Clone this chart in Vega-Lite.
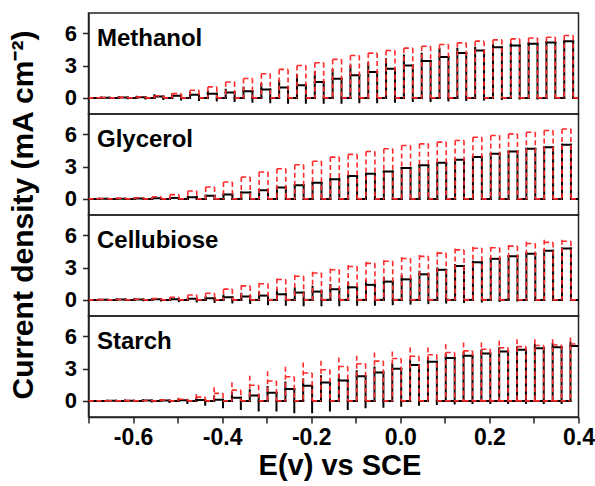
{
"$schema": "https://vega.github.io/schema/vega-lite/v6.json",
"padding": {"left": 8.5, "top": 12, "right": 14, "bottom": 4},
"background": "white",
"bounds": "flush",
"data": {"values": [
{"p":"Methanol","s":"b","a":-0.672,"b":-0.652,"c":-0.7,"h":0.03,"l":0.02,"n":-0.02},
{"p":"Methanol","s":"b","a":-0.632,"b":-0.612,"c":-0.652,"h":0.05,"l":0.03,"n":-0.03},
{"p":"Methanol","s":"b","a":-0.592,"b":-0.572,"c":-0.612,"h":0.1,"l":0.06,"n":-0.06},
{"p":"Methanol","s":"b","a":-0.552,"b":-0.532,"c":-0.572,"h":0.25,"l":0.12,"n":-0.1},
{"p":"Methanol","s":"b","a":-0.512,"b":-0.492,"c":-0.532,"h":0.34,"l":0.2,"n":-0.15},
{"p":"Methanol","s":"b","a":-0.472,"b":-0.452,"c":-0.492,"h":0.45,"l":0.28,"n":-0.2},
{"p":"Methanol","s":"b","a":-0.432,"b":-0.412,"c":-0.452,"h":0.6,"l":0.38,"n":-0.25},
{"p":"Methanol","s":"b","a":-0.392,"b":-0.372,"c":-0.412,"h":0.75,"l":0.5,"n":-0.3},
{"p":"Methanol","s":"b","a":-0.352,"b":-0.332,"c":-0.372,"h":0.95,"l":0.62,"n":-0.35},
{"p":"Methanol","s":"b","a":-0.312,"b":-0.292,"c":-0.332,"h":1.3,"l":0.77,"n":-0.4},
{"p":"Methanol","s":"b","a":-0.272,"b":-0.252,"c":-0.292,"h":1.55,"l":0.96,"n":-0.45},
{"p":"Methanol","s":"b","a":-0.232,"b":-0.212,"c":-0.252,"h":2.1,"l":1.17,"n":-0.45},
{"p":"Methanol","s":"b","a":-0.192,"b":-0.172,"c":-0.212,"h":2.4,"l":1.48,"n":-0.45},
{"p":"Methanol","s":"b","a":-0.152,"b":-0.132,"c":-0.172,"h":2.6,"l":1.79,"n":-0.45},
{"p":"Methanol","s":"b","a":-0.112,"b":-0.092,"c":-0.132,"h":3.0,"l":2.1,"n":-0.4},
{"p":"Methanol","s":"b","a":-0.072,"b":-0.052,"c":-0.092,"h":3.2,"l":2.4,"n":-0.4},
{"p":"Methanol","s":"b","a":-0.032,"b":-0.012,"c":-0.052,"h":3.6,"l":2.7,"n":-0.35},
{"p":"Methanol","s":"b","a":0.008,"b":0.028,"c":-0.012,"h":3.95,"l":3.02,"n":-0.3},
{"p":"Methanol","s":"b","a":0.048,"b":0.068,"c":0.028,"h":4.1,"l":3.43,"n":-0.3},
{"p":"Methanol","s":"b","a":0.088,"b":0.108,"c":0.068,"h":4.55,"l":3.8,"n":-0.25},
{"p":"Methanol","s":"b","a":0.128,"b":0.148,"c":0.108,"h":4.55,"l":4.17,"n":-0.2},
{"p":"Methanol","s":"b","a":0.168,"b":0.188,"c":0.148,"h":4.66,"l":4.41,"n":-0.15},
{"p":"Methanol","s":"b","a":0.208,"b":0.228,"c":0.188,"h":4.9,"l":4.72,"n":-0.1},
{"p":"Methanol","s":"b","a":0.248,"b":0.268,"c":0.228,"h":5.0,"l":4.88,"n":-0.05},
{"p":"Methanol","s":"b","a":0.288,"b":0.308,"c":0.268,"h":5.1,"l":5.03,"n":-0.05},
{"p":"Methanol","s":"b","a":0.328,"b":0.348,"c":0.308,"h":5.2,"l":5.15,"n":0},
{"p":"Methanol","s":"b","a":0.368,"b":0.388,"c":0.348,"h":5.28,"l":5.28,"n":0},
{"p":"Methanol","s":"b","a":0.408,"b":0.428,"c":0.388,"h":5.3,"l":5.3,"n":0},
{"p":"Methanol","s":"r","a":-0.672,"b":-0.652,"c":-0.7,"h":0.03,"l":0.03,"n":0},
{"p":"Methanol","s":"r","a":-0.632,"b":-0.612,"c":-0.652,"h":0.05,"l":0.05,"n":0},
{"p":"Methanol","s":"r","a":-0.592,"b":-0.572,"c":-0.612,"h":0.1,"l":0.1,"n":0},
{"p":"Methanol","s":"r","a":-0.552,"b":-0.532,"c":-0.572,"h":0.2,"l":0.2,"n":0},
{"p":"Methanol","s":"r","a":-0.512,"b":-0.492,"c":-0.532,"h":0.4,"l":0.4,"n":0},
{"p":"Methanol","s":"r","a":-0.472,"b":-0.452,"c":-0.492,"h":0.71,"l":0.71,"n":0},
{"p":"Methanol","s":"r","a":-0.432,"b":-0.412,"c":-0.452,"h":1.02,"l":1.02,"n":0},
{"p":"Methanol","s":"r","a":-0.392,"b":-0.372,"c":-0.412,"h":1.48,"l":1.48,"n":0},
{"p":"Methanol","s":"r","a":-0.352,"b":-0.332,"c":-0.372,"h":1.8,"l":1.8,"n":0},
{"p":"Methanol","s":"r","a":-0.312,"b":-0.292,"c":-0.332,"h":2.25,"l":2.25,"n":0},
{"p":"Methanol","s":"r","a":-0.272,"b":-0.252,"c":-0.292,"h":2.65,"l":2.65,"n":0},
{"p":"Methanol","s":"r","a":-0.232,"b":-0.212,"c":-0.252,"h":3.02,"l":3.02,"n":0},
{"p":"Methanol","s":"r","a":-0.192,"b":-0.172,"c":-0.212,"h":3.27,"l":3.27,"n":0},
{"p":"Methanol","s":"r","a":-0.152,"b":-0.132,"c":-0.172,"h":3.58,"l":3.58,"n":0},
{"p":"Methanol","s":"r","a":-0.112,"b":-0.092,"c":-0.132,"h":3.95,"l":3.95,"n":0},
{"p":"Methanol","s":"r","a":-0.072,"b":-0.052,"c":-0.092,"h":4.17,"l":4.17,"n":0},
{"p":"Methanol","s":"r","a":-0.032,"b":-0.012,"c":-0.052,"h":4.41,"l":4.41,"n":0},
{"p":"Methanol","s":"r","a":0.008,"b":0.028,"c":-0.012,"h":4.63,"l":4.63,"n":0},
{"p":"Methanol","s":"r","a":0.048,"b":0.068,"c":0.028,"h":4.8,"l":4.8,"n":0},
{"p":"Methanol","s":"r","a":0.088,"b":0.108,"c":0.068,"h":4.97,"l":4.97,"n":0},
{"p":"Methanol","s":"r","a":0.128,"b":0.148,"c":0.108,"h":5.12,"l":5.12,"n":0},
{"p":"Methanol","s":"r","a":0.168,"b":0.188,"c":0.148,"h":5.28,"l":5.28,"n":0},
{"p":"Methanol","s":"r","a":0.208,"b":0.228,"c":0.188,"h":5.4,"l":5.4,"n":0},
{"p":"Methanol","s":"r","a":0.248,"b":0.268,"c":0.228,"h":5.49,"l":5.49,"n":0},
{"p":"Methanol","s":"r","a":0.288,"b":0.308,"c":0.268,"h":5.58,"l":5.58,"n":0},
{"p":"Methanol","s":"r","a":0.328,"b":0.348,"c":0.308,"h":5.65,"l":5.65,"n":0},
{"p":"Methanol","s":"r","a":0.368,"b":0.388,"c":0.348,"h":5.8,"l":5.8,"n":0},
{"p":"Methanol","s":"r","a":0.408,"b":0.428,"c":0.388,"h":5.8,"l":5.8,"n":0},
{"p":"Glycerol","s":"b","a":-0.677,"b":-0.657,"c":-0.7,"h":0.01,"l":0.01,"n":0},
{"p":"Glycerol","s":"b","a":-0.637,"b":-0.617,"c":-0.657,"h":0.02,"l":0.02,"n":0},
{"p":"Glycerol","s":"b","a":-0.597,"b":-0.577,"c":-0.617,"h":0.03,"l":0.03,"n":0},
{"p":"Glycerol","s":"b","a":-0.557,"b":-0.537,"c":-0.577,"h":0.05,"l":0.05,"n":0},
{"p":"Glycerol","s":"b","a":-0.517,"b":-0.497,"c":-0.537,"h":0.09,"l":0.09,"n":0},
{"p":"Glycerol","s":"b","a":-0.477,"b":-0.457,"c":-0.497,"h":0.15,"l":0.15,"n":0},
{"p":"Glycerol","s":"b","a":-0.437,"b":-0.417,"c":-0.457,"h":0.28,"l":0.28,"n":0},
{"p":"Glycerol","s":"b","a":-0.397,"b":-0.377,"c":-0.417,"h":0.4,"l":0.4,"n":0},
{"p":"Glycerol","s":"b","a":-0.357,"b":-0.337,"c":-0.377,"h":0.59,"l":0.59,"n":0},
{"p":"Glycerol","s":"b","a":-0.317,"b":-0.297,"c":-0.337,"h":0.8,"l":0.8,"n":0},
{"p":"Glycerol","s":"b","a":-0.277,"b":-0.257,"c":-0.297,"h":1.05,"l":1.05,"n":0},
{"p":"Glycerol","s":"b","a":-0.237,"b":-0.217,"c":-0.257,"h":1.27,"l":1.27,"n":0},
{"p":"Glycerol","s":"b","a":-0.197,"b":-0.177,"c":-0.217,"h":1.51,"l":1.51,"n":0},
{"p":"Glycerol","s":"b","a":-0.157,"b":-0.137,"c":-0.177,"h":1.82,"l":1.82,"n":0},
{"p":"Glycerol","s":"b","a":-0.117,"b":-0.097,"c":-0.137,"h":2.13,"l":2.13,"n":0},
{"p":"Glycerol","s":"b","a":-0.077,"b":-0.057,"c":-0.097,"h":2.35,"l":2.35,"n":0},
{"p":"Glycerol","s":"b","a":-0.037,"b":-0.017,"c":-0.057,"h":2.56,"l":2.56,"n":0},
{"p":"Glycerol","s":"b","a":0.003,"b":0.023,"c":-0.017,"h":2.87,"l":2.87,"n":0},
{"p":"Glycerol","s":"b","a":0.043,"b":0.063,"c":0.023,"h":3.12,"l":3.12,"n":0},
{"p":"Glycerol","s":"b","a":0.083,"b":0.103,"c":0.063,"h":3.36,"l":3.36,"n":0},
{"p":"Glycerol","s":"b","a":0.123,"b":0.143,"c":0.103,"h":3.64,"l":3.64,"n":0},
{"p":"Glycerol","s":"b","a":0.163,"b":0.183,"c":0.143,"h":3.89,"l":3.89,"n":0},
{"p":"Glycerol","s":"b","a":0.203,"b":0.223,"c":0.183,"h":4.2,"l":4.2,"n":0},
{"p":"Glycerol","s":"b","a":0.243,"b":0.263,"c":0.223,"h":4.41,"l":4.41,"n":0},
{"p":"Glycerol","s":"b","a":0.283,"b":0.303,"c":0.263,"h":4.66,"l":4.66,"n":0},
{"p":"Glycerol","s":"b","a":0.323,"b":0.343,"c":0.303,"h":4.8,"l":4.8,"n":0},
{"p":"Glycerol","s":"b","a":0.363,"b":0.383,"c":0.343,"h":5.03,"l":5.03,"n":0},
{"p":"Glycerol","s":"b","a":0.403,"b":0.423,"c":0.383,"h":5.1,"l":5.1,"n":0},
{"p":"Glycerol","s":"r","a":-0.677,"b":-0.657,"c":-0.7,"h":0.03,"l":0.03,"n":0},
{"p":"Glycerol","s":"r","a":-0.637,"b":-0.617,"c":-0.657,"h":0.05,"l":0.05,"n":0},
{"p":"Glycerol","s":"r","a":-0.597,"b":-0.577,"c":-0.617,"h":0.1,"l":0.1,"n":0},
{"p":"Glycerol","s":"r","a":-0.557,"b":-0.537,"c":-0.577,"h":0.2,"l":0.2,"n":0},
{"p":"Glycerol","s":"r","a":-0.517,"b":-0.497,"c":-0.537,"h":0.4,"l":0.4,"n":0},
{"p":"Glycerol","s":"r","a":-0.477,"b":-0.457,"c":-0.497,"h":0.74,"l":0.74,"n":0},
{"p":"Glycerol","s":"r","a":-0.437,"b":-0.417,"c":-0.457,"h":1.1,"l":1.1,"n":0},
{"p":"Glycerol","s":"r","a":-0.397,"b":-0.377,"c":-0.417,"h":1.57,"l":1.57,"n":0},
{"p":"Glycerol","s":"r","a":-0.357,"b":-0.337,"c":-0.377,"h":2.04,"l":2.04,"n":0},
{"p":"Glycerol","s":"r","a":-0.317,"b":-0.297,"c":-0.337,"h":2.5,"l":2.5,"n":0},
{"p":"Glycerol","s":"r","a":-0.277,"b":-0.257,"c":-0.297,"h":2.8,"l":2.8,"n":0},
{"p":"Glycerol","s":"r","a":-0.237,"b":-0.217,"c":-0.257,"h":3.18,"l":3.18,"n":0},
{"p":"Glycerol","s":"r","a":-0.197,"b":-0.177,"c":-0.217,"h":3.5,"l":3.5,"n":0},
{"p":"Glycerol","s":"r","a":-0.157,"b":-0.137,"c":-0.177,"h":3.89,"l":3.89,"n":0},
{"p":"Glycerol","s":"r","a":-0.117,"b":-0.097,"c":-0.137,"h":4.14,"l":4.14,"n":0},
{"p":"Glycerol","s":"r","a":-0.077,"b":-0.057,"c":-0.097,"h":4.41,"l":4.41,"n":0},
{"p":"Glycerol","s":"r","a":-0.037,"b":-0.017,"c":-0.057,"h":4.66,"l":4.66,"n":0},
{"p":"Glycerol","s":"r","a":0.003,"b":0.023,"c":-0.017,"h":4.97,"l":4.97,"n":0},
{"p":"Glycerol","s":"r","a":0.043,"b":0.063,"c":0.023,"h":5.12,"l":5.12,"n":0},
{"p":"Glycerol","s":"r","a":0.083,"b":0.103,"c":0.063,"h":5.28,"l":5.28,"n":0},
{"p":"Glycerol","s":"r","a":0.123,"b":0.143,"c":0.103,"h":5.43,"l":5.43,"n":0},
{"p":"Glycerol","s":"r","a":0.163,"b":0.183,"c":0.143,"h":5.74,"l":5.74,"n":0},
{"p":"Glycerol","s":"r","a":0.203,"b":0.223,"c":0.183,"h":5.9,"l":5.9,"n":0},
{"p":"Glycerol","s":"r","a":0.243,"b":0.263,"c":0.223,"h":6.05,"l":6.05,"n":0},
{"p":"Glycerol","s":"r","a":0.283,"b":0.303,"c":0.263,"h":6.2,"l":6.2,"n":0},
{"p":"Glycerol","s":"r","a":0.323,"b":0.343,"c":0.303,"h":6.36,"l":6.36,"n":0},
{"p":"Glycerol","s":"r","a":0.363,"b":0.383,"c":0.343,"h":6.5,"l":6.5,"n":0},
{"p":"Glycerol","s":"r","a":0.403,"b":0.423,"c":0.383,"h":6.5,"l":6.5,"n":0},
{"p":"Cellubiose","s":"b","a":-0.677,"b":-0.657,"c":-0.7,"h":0.02,"l":0.02,"n":0},
{"p":"Cellubiose","s":"b","a":-0.637,"b":-0.617,"c":-0.657,"h":0.04,"l":0.03,"n":-0.02},
{"p":"Cellubiose","s":"b","a":-0.597,"b":-0.577,"c":-0.617,"h":0.06,"l":0.04,"n":-0.04},
{"p":"Cellubiose","s":"b","a":-0.557,"b":-0.537,"c":-0.577,"h":0.08,"l":0.05,"n":-0.06},
{"p":"Cellubiose","s":"b","a":-0.517,"b":-0.497,"c":-0.537,"h":0.1,"l":0.06,"n":-0.1},
{"p":"Cellubiose","s":"b","a":-0.477,"b":-0.457,"c":-0.497,"h":0.15,"l":0.1,"n":-0.15},
{"p":"Cellubiose","s":"b","a":-0.437,"b":-0.417,"c":-0.457,"h":0.25,"l":0.15,"n":-0.2},
{"p":"Cellubiose","s":"b","a":-0.397,"b":-0.377,"c":-0.417,"h":0.4,"l":0.25,"n":-0.25},
{"p":"Cellubiose","s":"b","a":-0.357,"b":-0.337,"c":-0.377,"h":0.56,"l":0.31,"n":-0.3},
{"p":"Cellubiose","s":"b","a":-0.317,"b":-0.297,"c":-0.337,"h":0.71,"l":0.4,"n":-0.4},
{"p":"Cellubiose","s":"b","a":-0.277,"b":-0.257,"c":-0.297,"h":0.93,"l":0.52,"n":-0.45},
{"p":"Cellubiose","s":"b","a":-0.237,"b":-0.217,"c":-0.257,"h":1.08,"l":0.68,"n":-0.5},
{"p":"Cellubiose","s":"b","a":-0.197,"b":-0.177,"c":-0.217,"h":1.23,"l":0.77,"n":-0.5},
{"p":"Cellubiose","s":"b","a":-0.157,"b":-0.137,"c":-0.177,"h":1.39,"l":0.99,"n":-0.5},
{"p":"Cellubiose","s":"b","a":-0.117,"b":-0.097,"c":-0.137,"h":1.54,"l":1.17,"n":-0.45},
{"p":"Cellubiose","s":"b","a":-0.077,"b":-0.057,"c":-0.097,"h":1.76,"l":1.4,"n":-0.45},
{"p":"Cellubiose","s":"b","a":-0.037,"b":-0.017,"c":-0.057,"h":2.0,"l":1.7,"n":-0.4},
{"p":"Cellubiose","s":"b","a":0.003,"b":0.023,"c":-0.017,"h":2.22,"l":1.91,"n":-0.35},
{"p":"Cellubiose","s":"b","a":0.043,"b":0.063,"c":0.023,"h":2.62,"l":2.38,"n":-0.3},
{"p":"Cellubiose","s":"b","a":0.083,"b":0.103,"c":0.063,"h":2.93,"l":2.8,"n":-0.25},
{"p":"Cellubiose","s":"b","a":0.123,"b":0.143,"c":0.103,"h":3.24,"l":3.15,"n":-0.2},
{"p":"Cellubiose","s":"b","a":0.163,"b":0.183,"c":0.143,"h":3.55,"l":3.5,"n":-0.15},
{"p":"Cellubiose","s":"b","a":0.203,"b":0.223,"c":0.183,"h":3.86,"l":3.82,"n":-0.1},
{"p":"Cellubiose","s":"b","a":0.243,"b":0.263,"c":0.223,"h":4.07,"l":4.05,"n":-0.05},
{"p":"Cellubiose","s":"b","a":0.283,"b":0.303,"c":0.263,"h":4.32,"l":4.3,"n":0},
{"p":"Cellubiose","s":"b","a":0.323,"b":0.343,"c":0.303,"h":4.57,"l":4.57,"n":0},
{"p":"Cellubiose","s":"b","a":0.363,"b":0.383,"c":0.343,"h":4.78,"l":4.78,"n":0},
{"p":"Cellubiose","s":"b","a":0.403,"b":0.423,"c":0.383,"h":4.8,"l":4.8,"n":0},
{"p":"Cellubiose","s":"r","a":-0.677,"b":-0.657,"c":-0.7,"h":0.02,"l":0.02,"n":0},
{"p":"Cellubiose","s":"r","a":-0.637,"b":-0.617,"c":-0.657,"h":0.03,"l":0.03,"n":0},
{"p":"Cellubiose","s":"r","a":-0.597,"b":-0.577,"c":-0.617,"h":0.06,"l":0.06,"n":0},
{"p":"Cellubiose","s":"r","a":-0.557,"b":-0.537,"c":-0.577,"h":0.12,"l":0.12,"n":0},
{"p":"Cellubiose","s":"r","a":-0.517,"b":-0.497,"c":-0.537,"h":0.25,"l":0.25,"n":0},
{"p":"Cellubiose","s":"r","a":-0.477,"b":-0.457,"c":-0.497,"h":0.46,"l":0.46,"n":0},
{"p":"Cellubiose","s":"r","a":-0.437,"b":-0.417,"c":-0.457,"h":0.62,"l":0.62,"n":0},
{"p":"Cellubiose","s":"r","a":-0.397,"b":-0.377,"c":-0.417,"h":1.0,"l":1.0,"n":0},
{"p":"Cellubiose","s":"r","a":-0.357,"b":-0.337,"c":-0.377,"h":1.39,"l":1.3,"n":0},
{"p":"Cellubiose","s":"r","a":-0.317,"b":-0.297,"c":-0.337,"h":1.6,"l":1.5,"n":0},
{"p":"Cellubiose","s":"r","a":-0.277,"b":-0.257,"c":-0.297,"h":2.0,"l":1.9,"n":0},
{"p":"Cellubiose","s":"r","a":-0.237,"b":-0.217,"c":-0.257,"h":2.31,"l":2.2,"n":0},
{"p":"Cellubiose","s":"r","a":-0.197,"b":-0.177,"c":-0.217,"h":2.62,"l":2.5,"n":0},
{"p":"Cellubiose","s":"r","a":-0.157,"b":-0.137,"c":-0.177,"h":2.93,"l":2.8,"n":0},
{"p":"Cellubiose","s":"r","a":-0.117,"b":-0.097,"c":-0.137,"h":3.24,"l":3.1,"n":0},
{"p":"Cellubiose","s":"r","a":-0.077,"b":-0.057,"c":-0.097,"h":3.55,"l":3.4,"n":0},
{"p":"Cellubiose","s":"r","a":-0.037,"b":-0.017,"c":-0.057,"h":3.7,"l":3.6,"n":0},
{"p":"Cellubiose","s":"r","a":0.003,"b":0.023,"c":-0.017,"h":4.0,"l":3.85,"n":0},
{"p":"Cellubiose","s":"r","a":0.043,"b":0.063,"c":0.023,"h":4.17,"l":4.05,"n":0},
{"p":"Cellubiose","s":"r","a":0.083,"b":0.103,"c":0.063,"h":4.48,"l":4.35,"n":0},
{"p":"Cellubiose","s":"r","a":0.123,"b":0.143,"c":0.103,"h":4.78,"l":4.65,"n":0},
{"p":"Cellubiose","s":"r","a":0.163,"b":0.183,"c":0.143,"h":4.94,"l":4.8,"n":0},
{"p":"Cellubiose","s":"r","a":0.203,"b":0.223,"c":0.183,"h":4.94,"l":4.85,"n":0},
{"p":"Cellubiose","s":"r","a":0.243,"b":0.263,"c":0.223,"h":5.1,"l":5.0,"n":0},
{"p":"Cellubiose","s":"r","a":0.283,"b":0.303,"c":0.263,"h":5.4,"l":5.25,"n":0},
{"p":"Cellubiose","s":"r","a":0.323,"b":0.343,"c":0.303,"h":5.6,"l":5.35,"n":0},
{"p":"Cellubiose","s":"r","a":0.363,"b":0.383,"c":0.343,"h":5.6,"l":5.45,"n":0},
{"p":"Cellubiose","s":"r","a":0.403,"b":0.423,"c":0.383,"h":5.6,"l":5.5,"n":0},
{"p":"Starch","s":"b","a":-0.658,"b":-0.638,"c":-0.7,"h":0.02,"l":0.01,"n":0},
{"p":"Starch","s":"b","a":-0.618,"b":-0.598,"c":-0.638,"h":0.03,"l":0.02,"n":-0.02},
{"p":"Starch","s":"b","a":-0.578,"b":-0.558,"c":-0.598,"h":0.05,"l":0.03,"n":-0.05},
{"p":"Starch","s":"b","a":-0.538,"b":-0.518,"c":-0.558,"h":0.08,"l":0.04,"n":-0.1},
{"p":"Starch","s":"b","a":-0.498,"b":-0.478,"c":-0.518,"h":0.15,"l":0.05,"n":-0.2},
{"p":"Starch","s":"b","a":-0.458,"b":-0.438,"c":-0.478,"h":0.25,"l":0.08,"n":-0.35},
{"p":"Starch","s":"b","a":-0.418,"b":-0.398,"c":-0.438,"h":0.4,"l":0.1,"n":-0.6},
{"p":"Starch","s":"b","a":-0.378,"b":-0.358,"c":-0.398,"h":0.7,"l":0.3,"n":-0.75},
{"p":"Starch","s":"b","a":-0.338,"b":-0.318,"c":-0.358,"h":1.0,"l":0.5,"n":-0.9},
{"p":"Starch","s":"b","a":-0.298,"b":-0.278,"c":-0.318,"h":1.3,"l":0.75,"n":-0.9},
{"p":"Starch","s":"b","a":-0.258,"b":-0.238,"c":-0.278,"h":1.7,"l":1.1,"n":-1.05},
{"p":"Starch","s":"b","a":-0.218,"b":-0.198,"c":-0.238,"h":2.0,"l":1.4,"n":-1.05},
{"p":"Starch","s":"b","a":-0.178,"b":-0.158,"c":-0.198,"h":2.3,"l":1.7,"n":-0.9},
{"p":"Starch","s":"b","a":-0.138,"b":-0.118,"c":-0.158,"h":2.4,"l":1.9,"n":-0.75},
{"p":"Starch","s":"b","a":-0.098,"b":-0.078,"c":-0.118,"h":2.75,"l":2.3,"n":-0.6},
{"p":"Starch","s":"b","a":-0.058,"b":-0.038,"c":-0.078,"h":3.1,"l":2.65,"n":-0.55},
{"p":"Starch","s":"b","a":-0.018,"b":0.002,"c":-0.038,"h":3.4,"l":3.0,"n":-0.45},
{"p":"Starch","s":"b","a":0.022,"b":0.042,"c":0.002,"h":3.75,"l":3.35,"n":-0.35},
{"p":"Starch","s":"b","a":0.062,"b":0.082,"c":0.042,"h":4.0,"l":3.65,"n":-0.3},
{"p":"Starch","s":"b","a":0.102,"b":0.122,"c":0.082,"h":4.3,"l":4.0,"n":-0.25},
{"p":"Starch","s":"b","a":0.142,"b":0.162,"c":0.102,"h":4.5,"l":4.2,"n":-0.2},
{"p":"Starch","s":"b","a":0.182,"b":0.202,"c":0.142,"h":4.7,"l":4.4,"n":-0.2},
{"p":"Starch","s":"b","a":0.222,"b":0.242,"c":0.182,"h":4.9,"l":4.6,"n":-0.2},
{"p":"Starch","s":"b","a":0.262,"b":0.282,"c":0.222,"h":5.0,"l":4.75,"n":-0.2},
{"p":"Starch","s":"b","a":0.302,"b":0.322,"c":0.262,"h":5.2,"l":4.9,"n":-0.2},
{"p":"Starch","s":"b","a":0.342,"b":0.362,"c":0.302,"h":5.3,"l":5.0,"n":-0.2},
{"p":"Starch","s":"b","a":0.382,"b":0.402,"c":0.342,"h":5.4,"l":5.1,"n":-0.2},
{"p":"Starch","s":"r","a":-0.658,"b":-0.638,"c":-0.7,"h":0.02,"l":0.01,"n":0},
{"p":"Starch","s":"r","a":-0.618,"b":-0.598,"c":-0.638,"h":0.03,"l":0.02,"n":0},
{"p":"Starch","s":"r","a":-0.578,"b":-0.558,"c":-0.598,"h":0.06,"l":0.04,"n":0},
{"p":"Starch","s":"r","a":-0.538,"b":-0.518,"c":-0.558,"h":0.15,"l":0.08,"n":0},
{"p":"Starch","s":"r","a":-0.498,"b":-0.478,"c":-0.518,"h":0.3,"l":0.15,"n":0},
{"p":"Starch","s":"r","a":-0.458,"b":-0.438,"c":-0.478,"h":0.65,"l":0.35,"n":0},
{"p":"Starch","s":"r","a":-0.418,"b":-0.398,"c":-0.438,"h":1.27,"l":0.7,"n":0},
{"p":"Starch","s":"r","a":-0.378,"b":-0.358,"c":-0.398,"h":1.73,"l":1.0,"n":0},
{"p":"Starch","s":"r","a":-0.338,"b":-0.318,"c":-0.358,"h":2.35,"l":1.45,"n":0},
{"p":"Starch","s":"r","a":-0.298,"b":-0.278,"c":-0.318,"h":2.75,"l":1.85,"n":0},
{"p":"Starch","s":"r","a":-0.258,"b":-0.238,"c":-0.278,"h":3.18,"l":2.25,"n":0},
{"p":"Starch","s":"r","a":-0.218,"b":-0.198,"c":-0.238,"h":3.58,"l":2.6,"n":0},
{"p":"Starch","s":"r","a":-0.178,"b":-0.158,"c":-0.198,"h":3.73,"l":2.9,"n":0},
{"p":"Starch","s":"r","a":-0.138,"b":-0.118,"c":-0.158,"h":4.04,"l":3.2,"n":0},
{"p":"Starch","s":"r","a":-0.098,"b":-0.078,"c":-0.118,"h":4.2,"l":3.45,"n":0},
{"p":"Starch","s":"r","a":-0.058,"b":-0.038,"c":-0.078,"h":4.5,"l":3.7,"n":0},
{"p":"Starch","s":"r","a":-0.018,"b":0.002,"c":-0.038,"h":4.6,"l":3.95,"n":0},
{"p":"Starch","s":"r","a":0.022,"b":0.042,"c":0.002,"h":4.97,"l":4.15,"n":0},
{"p":"Starch","s":"r","a":0.062,"b":0.082,"c":0.042,"h":4.97,"l":4.3,"n":0},
{"p":"Starch","s":"r","a":0.102,"b":0.122,"c":0.082,"h":5.28,"l":4.5,"n":0},
{"p":"Starch","s":"r","a":0.142,"b":0.162,"c":0.102,"h":5.43,"l":4.65,"n":0},
{"p":"Starch","s":"r","a":0.182,"b":0.202,"c":0.142,"h":5.43,"l":4.8,"n":0},
{"p":"Starch","s":"r","a":0.222,"b":0.242,"c":0.182,"h":5.59,"l":4.95,"n":0},
{"p":"Starch","s":"r","a":0.262,"b":0.282,"c":0.222,"h":5.74,"l":5.05,"n":0},
{"p":"Starch","s":"r","a":0.302,"b":0.322,"c":0.262,"h":5.74,"l":5.15,"n":0},
{"p":"Starch","s":"r","a":0.342,"b":0.362,"c":0.302,"h":5.74,"l":5.2,"n":0},
{"p":"Starch","s":"r","a":0.382,"b":0.402,"c":0.342,"h":5.9,"l":5.3,"n":0}
]},
"spacing": {"row": 0},
"facet": {"row": {"field": "p", "type": "nominal", "sort": ["Methanol", "Glycerol", "Cellubiose", "Starch"], "title": "Current density (mA cm⁻²)", "header": {"labels": false, "titleFont": "Liberation Sans", "titleFontSize": 30, "titleFontWeight": "bold", "titleColor": "black", "titlePadding": 14.5}}},
"spec": {
"width": 490,
"height": 101,
"layer": [
{"transform": [{"filter": "datum.s=='b'"}], "mark": {"type": "rule", "color": "black", "strokeWidth": 2, "clip": true, "strokeCap": "square"},
 "encoding": {"x": {"field": "c", "type": "quantitative", "scale": {"domain": [-0.7, 0.4], "nice": false, "zero": false}, "axis": {"title": "E(v) vs SCE", "values": [-0.7,-0.6,-0.5,-0.4,-0.3,-0.2,-0.1,0,0.1,0.2,0.3,0.4], "labelExpr": "abs(round(datum.value*10))%2==0 ? replace(format(datum.value, '.1f'), '\u2212', '-') : ''", "labelFlush": false, "labelOverlap": false, "grid": false, "labelFontSize": 23, "titleFontSize": 29, "titleX": 251}},
  "x2": {"field": "a"}, "y": {"datum": 0, "type": "quantitative", "scale": {"domain": [-1.5, 7.9], "nice": false, "zero": false}, "axis": {"title": null, "values": [0, 3, 6], "grid": false, "labelFontSize": 22, "labelPadding": 6}}}},
{"transform": [{"filter": "datum.s=='b'"}], "mark": {"type": "rule", "color": "black", "strokeWidth": 2, "clip": true, "strokeCap": "square"},
 "encoding": {"x": {"field": "a", "type": "quantitative"}, "y": {"field": "h", "type": "quantitative"}, "y2": {"datum": 0}}},
{"transform": [{"filter": "datum.s=='b'"}], "mark": {"type": "rule", "color": "black", "strokeWidth": 2, "clip": true, "strokeCap": "square"},
 "encoding": {"x": {"field": "a", "type": "quantitative"}, "x2": {"field": "b"}, "y": {"field": "l", "type": "quantitative"}}},
{"transform": [{"filter": "datum.s=='b'"}], "mark": {"type": "rule", "color": "black", "strokeWidth": 2, "clip": true, "strokeCap": "square"},
 "encoding": {"x": {"field": "b", "type": "quantitative"}, "y": {"field": "l", "type": "quantitative"}, "y2": {"field": "n"}}},
{"transform": [{"filter": "datum.s=='r'"}], "mark": {"type": "rule", "color": "#ff2a2a", "strokeWidth": 1.6, "strokeDash": [5, 3], "clip": true},
 "encoding": {"x": {"field": "c", "type": "quantitative"}, "x2": {"field": "a"}, "y": {"datum": 0, "type": "quantitative"}}},
{"transform": [{"filter": "datum.s=='r'"}], "mark": {"type": "rule", "color": "#ff2a2a", "strokeWidth": 1.6, "strokeDash": [5, 3], "clip": true},
 "encoding": {"x": {"field": "a", "type": "quantitative"}, "y": {"field": "h", "type": "quantitative"}, "y2": {"datum": 0}}},
{"transform": [{"filter": "datum.s=='r'"}], "mark": {"type": "rule", "color": "#ff2a2a", "strokeWidth": 1.6, "strokeDash": [5, 3], "clip": true},
 "encoding": {"x": {"field": "a", "type": "quantitative"}, "x2": {"field": "b"}, "y": {"field": "l", "type": "quantitative"}}},
{"transform": [{"filter": "datum.s=='r'"}], "mark": {"type": "rule", "color": "#ff2a2a", "strokeWidth": 1.6, "strokeDash": [5, 3], "clip": true},
 "encoding": {"x": {"field": "b", "type": "quantitative"}, "y": {"field": "l", "type": "quantitative"}, "y2": {"field": "n"}}},
{"transform": [{"filter": "datum.s=='b' && datum.c==-0.7"}], "mark": {"type": "text", "align": "left", "baseline": "middle", "font": "Liberation Sans", "fontSize": 24, "fontWeight": "bold", "color": "black"},
 "encoding": {"x": {"datum": -0.681, "type": "quantitative"}, "y": {"datum": 5.45, "type": "quantitative"}, "text": {"field": "p"}}}
]},
"config": {
 "view": {"stroke": "#222", "strokeWidth": 1.5},
 "axis": {"labelFont": "Liberation Sans", "labelFontSize": 21, "labelFontWeight": "bold", "labelColor": "black", "titleFont": "Liberation Sans", "titleFontSize": 27, "titleFontWeight": "bold", "titleColor": "black", "domainColor": "#222", "domainWidth": 1.5, "tickColor": "#222", "tickWidth": 1.5, "tickSize": 6, "labelPadding": 3, "titlePadding": 2}
}
}
